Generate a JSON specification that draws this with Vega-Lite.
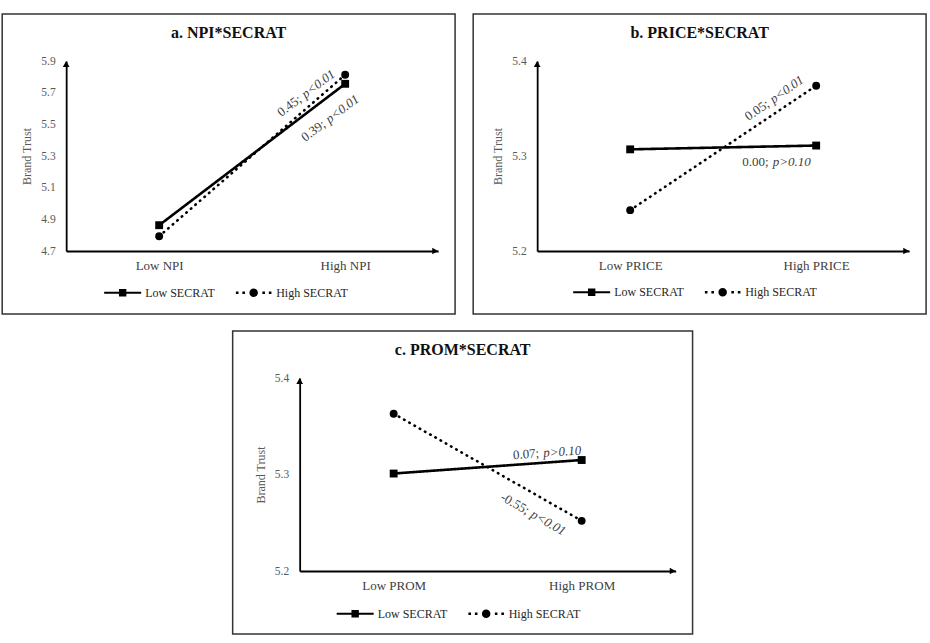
{
  "$schema": "https://vega.github.io/schema/vega-lite/v6.json",
  "background": "white",
  "padding": {"left": 1, "top": 13, "right": 0, "bottom": 0},
  "datasets": {
    "npi": [
      {"level": 1, "group": "Low SECRAT", "value": 4.863},
      {"level": 2, "group": "Low SECRAT", "value": 5.756},
      {"level": 1, "group": "High SECRAT", "value": 4.793},
      {"level": 2, "group": "High SECRAT", "value": 5.813}
    ],
    "price": [
      {"level": 1, "group": "Low SECRAT", "value": 5.307},
      {"level": 2, "group": "Low SECRAT", "value": 5.311},
      {"level": 1, "group": "High SECRAT", "value": 5.243},
      {"level": 2, "group": "High SECRAT", "value": 5.374}
    ],
    "prom": [
      {"level": 1, "group": "Low SECRAT", "value": 5.301},
      {"level": 2, "group": "Low SECRAT", "value": 5.315},
      {"level": 1, "group": "High SECRAT", "value": 5.363},
      {"level": 2, "group": "High SECRAT", "value": 5.252}
    ]
  },
  "spacing": 15,
  "center": true,
  "vconcat": [
    {
      "spacing": 16,
      "hconcat": [
        {
          "width": 372,
          "height": 190,
          "title": {"text": "a. NPI*SECRAT", "anchor": "middle", "frame": "bounds", "offset": -41, "baseline": "alphabetic", "fontSize": 16, "fontWeight": "bold", "color": "#111111", "font": "Liberation Serif"},
          "resolve": {"scale": {"shape": "independent"}},
          "layer": [
            {
              "data": {"values": [{}]},
              "mark": {"type": "rect", "fill": "transparent", "stroke": "#333333", "strokeWidth": 1.5},
              "encoding": {
                "x": {"datum": 0.156, "type": "quantitative", "scale": {"domain": [0.5, 2.5], "nice": false, "zero": false}},
                "x2": {"datum": 2.591},
                "y": {"datum": 4.302, "type": "quantitative", "scale": {"domain": [4.7, 5.9], "nice": false, "zero": false}},
                "y2": {"datum": 6.197}
              }
            },
            {
              "data": {"name": "npi"},
              "mark": {"type": "line", "color": "black", "strokeWidth": 2.6, "strokeCap": "round"},
              "encoding": {
                "x": {"field": "level", "type": "quantitative", "axis": {"values": [1, 2], "tickCount": 10, "labelExpr": "datum.value == 1 ? 'Low NPI' : 'High NPI'", "title": null}},
                "y": {"field": "value", "type": "quantitative", "axis": {"values": [4.7, 4.9, 5.1, 5.3, 5.5, 5.7, 5.9], "tickCount": 10, "format": ".1f", "title": "Brand Trust"}},
                "detail": {"field": "group"},
                "strokeDash": {"field": "group", "type": "nominal", "scale": {"domain": ["Low SECRAT", "High SECRAT"], "range": [[1, 0], [0.5, 5.5]]}, "legend": null}
              }
            },
            {
              "data": {"name": "npi"},
              "mark": {"type": "point", "filled": true, "color": "black", "size": 62, "opacity": 1},
              "encoding": {
                "x": {"field": "level", "type": "quantitative"},
                "y": {"field": "value", "type": "quantitative"},
                "shape": {"field": "group", "type": "nominal", "scale": {"domain": ["Low SECRAT", "High SECRAT"], "range": ["square", "circle"]}, "legend": null}
              }
            },
            {
              "data": {"name": "npi"},
              "mark": {"type": "point", "filled": true, "color": "black", "opacity": 0},
              "encoding": {
                "x": {"field": "level", "type": "quantitative"},
                "y": {"field": "value", "type": "quantitative"},
                "shape": {
                  "field": "group", "type": "nominal",
                  "scale": {"domain": ["Low SECRAT", "High SECRAT"], "range": ["M-1,-0.055H1V0.055H-1Z M-0.2,-0.2H0.2V0.2H-0.2Z", "M-0.96,-0.07H-0.82V0.07H-0.96Z M-0.61,-0.07H-0.47V0.07H-0.61Z M0.47,-0.07H0.61V0.07H0.47Z M0.82,-0.07H0.96V0.07H0.82Z M0.23,0A0.23,0.23 0 1,1 -0.23,0A0.23,0.23 0 1,1 0.23,0Z"]},
                  "legend": {"title": null, "orient": "none", "legendX": 38, "legendY": 213, "direction": "horizontal", "symbolSize": 1369, "symbolOpacity": 1, "symbolFillColor": "black", "symbolStrokeWidth": 0, "labelFontSize": 12, "labelColor": "#262626", "labelFont": "Liberation Serif", "labelOffset": 4, "columnPadding": 20, "padding": 0}
                }
              }
            },
            {
              "data": {"values": [{}]},
              "mark": {"type": "point", "shape": "triangle-up", "filled": true, "color": "black", "size": 45, "yOffset": 3, "opacity": 1},
              "encoding": {"x": {"datum": 0.5, "type": "quantitative"}, "y": {"datum": 5.9, "type": "quantitative"}}
            },
            {
              "data": {"values": [{}]},
              "mark": {"type": "point", "shape": "triangle-right", "filled": true, "color": "black", "size": 45, "xOffset": -3, "opacity": 1},
              "encoding": {"x": {"datum": 2.5, "type": "quantitative"}, "y": {"datum": 4.7, "type": "quantitative"}}
            },
            {
              "data": {"values": [{}]},
              "mark": {"type": "text", "text": "0.45;", "align": "right", "baseline": "middle", "angle": -37, "dx": -1.5, "fontSize": 13, "color": "#404040"},
              "encoding": {"x": {"datum": 1.763, "type": "quantitative"}, "y": {"datum": 5.673, "type": "quantitative"}}
            },
            {
              "data": {"values": [{}]},
              "mark": {"type": "text", "text": "p<0.01", "align": "left", "baseline": "middle", "angle": -37, "dx": 2.5, "fontStyle": "italic", "fontSize": 13, "color": "#404040"},
              "encoding": {"x": {"datum": 1.763, "type": "quantitative"}, "y": {"datum": 5.673, "type": "quantitative"}}
            },
            {
              "data": {"values": [{}]},
              "mark": {"type": "text", "text": "0.39;", "align": "right", "baseline": "middle", "angle": -37, "dx": -1.5, "fontSize": 13, "color": "#404040"},
              "encoding": {"x": {"datum": 1.892, "type": "quantitative"}, "y": {"datum": 5.515, "type": "quantitative"}}
            },
            {
              "data": {"values": [{}]},
              "mark": {"type": "text", "text": "p<0.01", "align": "left", "baseline": "middle", "angle": -37, "dx": 2.5, "fontStyle": "italic", "fontSize": 13, "color": "#404040"},
              "encoding": {"x": {"datum": 1.892, "type": "quantitative"}, "y": {"datum": 5.515, "type": "quantitative"}}
            }
          ]
        },
        {
          "width": 372,
          "height": 190,
          "title": {"text": "b. PRICE*SECRAT", "anchor": "middle", "frame": "bounds", "offset": -41, "baseline": "alphabetic", "fontSize": 16, "fontWeight": "bold", "color": "#111111", "font": "Liberation Serif"},
          "resolve": {"scale": {"shape": "independent"}},
          "layer": [
            {
              "data": {"values": [{}]},
              "mark": {"type": "rect", "fill": "transparent", "stroke": "#333333", "strokeWidth": 1.5},
              "encoding": {
                "x": {"datum": 0.156, "type": "quantitative", "scale": {"domain": [0.5, 2.5], "nice": false, "zero": false}},
                "x2": {"datum": 2.591},
                "y": {"datum": 5.1337, "type": "quantitative", "scale": {"domain": [5.2, 5.4], "nice": false, "zero": false}},
                "y2": {"datum": 5.4495}
              }
            },
            {
              "data": {"name": "price"},
              "mark": {"type": "line", "color": "black", "strokeWidth": 2.6, "strokeCap": "round"},
              "encoding": {
                "x": {"field": "level", "type": "quantitative", "axis": {"values": [1, 2], "tickCount": 10, "labelExpr": "datum.value == 1 ? 'Low PRICE' : 'High PRICE'", "title": null}},
                "y": {"field": "value", "type": "quantitative", "axis": {"values": [5.2, 5.3, 5.4], "tickCount": 10, "format": ".1f", "title": "Brand Trust"}},
                "detail": {"field": "group"},
                "strokeDash": {"field": "group", "type": "nominal", "scale": {"domain": ["Low SECRAT", "High SECRAT"], "range": [[1, 0], [0.5, 5.5]]}, "legend": null}
              }
            },
            {
              "data": {"name": "price"},
              "mark": {"type": "point", "filled": true, "color": "black", "size": 62, "opacity": 1},
              "encoding": {
                "x": {"field": "level", "type": "quantitative"},
                "y": {"field": "value", "type": "quantitative"},
                "shape": {"field": "group", "type": "nominal", "scale": {"domain": ["Low SECRAT", "High SECRAT"], "range": ["square", "circle"]}, "legend": null}
              }
            },
            {
              "data": {"name": "price"},
              "mark": {"type": "point", "filled": true, "color": "black", "opacity": 0},
              "encoding": {
                "x": {"field": "level", "type": "quantitative"},
                "y": {"field": "value", "type": "quantitative"},
                "shape": {
                  "field": "group", "type": "nominal",
                  "scale": {"domain": ["Low SECRAT", "High SECRAT"], "range": ["M-1,-0.055H1V0.055H-1Z M-0.2,-0.2H0.2V0.2H-0.2Z", "M-0.96,-0.07H-0.82V0.07H-0.96Z M-0.61,-0.07H-0.47V0.07H-0.61Z M0.47,-0.07H0.61V0.07H0.47Z M0.82,-0.07H0.96V0.07H0.82Z M0.23,0A0.23,0.23 0 1,1 -0.23,0A0.23,0.23 0 1,1 0.23,0Z"]},
                  "legend": {"title": null, "orient": "none", "legendX": 36, "legendY": 212.5, "direction": "horizontal", "symbolSize": 1369, "symbolOpacity": 1, "symbolFillColor": "black", "symbolStrokeWidth": 0, "labelFontSize": 12, "labelColor": "#262626", "labelFont": "Liberation Serif", "labelOffset": 4, "columnPadding": 20, "padding": 0}
                }
              }
            },
            {
              "data": {"values": [{}]},
              "mark": {"type": "point", "shape": "triangle-up", "filled": true, "color": "black", "size": 45, "yOffset": 3, "opacity": 1},
              "encoding": {"x": {"datum": 0.5, "type": "quantitative"}, "y": {"datum": 5.4, "type": "quantitative"}}
            },
            {
              "data": {"values": [{}]},
              "mark": {"type": "point", "shape": "triangle-right", "filled": true, "color": "black", "size": 45, "xOffset": -3, "opacity": 1},
              "encoding": {"x": {"datum": 2.5, "type": "quantitative"}, "y": {"datum": 5.2, "type": "quantitative"}}
            },
            {
              "data": {"values": [{}]},
              "mark": {"type": "text", "text": "0.05;", "align": "right", "baseline": "middle", "angle": -35, "dx": -1.5, "fontSize": 13, "color": "#404040"},
              "encoding": {"x": {"datum": 1.747, "type": "quantitative"}, "y": {"datum": 5.357, "type": "quantitative"}}
            },
            {
              "data": {"values": [{}]},
              "mark": {"type": "text", "text": "p<0.01", "align": "left", "baseline": "middle", "angle": -35, "dx": 2.5, "fontStyle": "italic", "fontSize": 13, "color": "#404040"},
              "encoding": {"x": {"datum": 1.747, "type": "quantitative"}, "y": {"datum": 5.357, "type": "quantitative"}}
            },
            {
              "data": {"values": [{}]},
              "mark": {"type": "text", "text": "0.00;", "align": "right", "baseline": "middle", "dx": -1.5, "fontSize": 13, "color": "#404040"},
              "encoding": {"x": {"datum": 1.753, "type": "quantitative"}, "y": {"datum": 5.294, "type": "quantitative"}}
            },
            {
              "data": {"values": [{}]},
              "mark": {"type": "text", "text": "p>0.10", "align": "left", "baseline": "middle", "dx": 2.5, "fontStyle": "italic", "fontSize": 13, "color": "#404040"},
              "encoding": {"x": {"datum": 1.753, "type": "quantitative"}, "y": {"datum": 5.294, "type": "quantitative"}}
            }
          ]
        }
      ]
    },
    {
      "width": 376,
      "height": 193,
      "title": {"text": "c. PROM*SECRAT", "anchor": "middle", "frame": "bounds", "offset": -41, "baseline": "alphabetic", "fontSize": 16, "fontWeight": "bold", "color": "#111111", "font": "Liberation Serif"},
      "resolve": {"scale": {"shape": "independent"}},
      "layer": [
        {
          "data": {"values": [{}]},
          "mark": {"type": "rect", "fill": "transparent", "stroke": "#333333", "strokeWidth": 1.5},
          "encoding": {
            "x": {"datum": 0.1436, "type": "quantitative", "scale": {"domain": [0.5, 2.5], "nice": false, "zero": false}},
            "x2": {"datum": 2.59},
            "y": {"datum": 5.1347, "type": "quantitative", "scale": {"domain": [5.2, 5.4], "nice": false, "zero": false}},
            "y2": {"datum": 5.4487}
          }
        },
        {
          "data": {"name": "prom"},
          "mark": {"type": "line", "color": "black", "strokeWidth": 2.6, "strokeCap": "round"},
          "encoding": {
            "x": {"field": "level", "type": "quantitative", "axis": {"values": [1, 2], "tickCount": 10, "labelExpr": "datum.value == 1 ? 'Low PROM' : 'High PROM'", "title": null}},
            "y": {"field": "value", "type": "quantitative", "axis": {"values": [5.2, 5.3, 5.4], "tickCount": 10, "format": ".1f", "title": "Brand Trust"}},
            "detail": {"field": "group"},
            "strokeDash": {"field": "group", "type": "nominal", "scale": {"domain": ["Low SECRAT", "High SECRAT"], "range": [[1, 0], [0.5, 5.5]]}, "legend": null}
          }
        },
        {
          "data": {"name": "prom"},
          "mark": {"type": "point", "filled": true, "color": "black", "size": 62, "opacity": 1},
          "encoding": {
            "x": {"field": "level", "type": "quantitative"},
            "y": {"field": "value", "type": "quantitative"},
            "shape": {"field": "group", "type": "nominal", "scale": {"domain": ["Low SECRAT", "High SECRAT"], "range": ["square", "circle"]}, "legend": null}
          }
        },
        {
          "data": {"name": "prom"},
          "mark": {"type": "point", "filled": true, "color": "black", "opacity": 0},
          "encoding": {
            "x": {"field": "level", "type": "quantitative"},
            "y": {"field": "value", "type": "quantitative"},
            "shape": {
              "field": "group", "type": "nominal",
              "scale": {"domain": ["Low SECRAT", "High SECRAT"], "range": ["M-1,-0.055H1V0.055H-1Z M-0.2,-0.2H0.2V0.2H-0.2Z", "M-0.96,-0.07H-0.82V0.07H-0.96Z M-0.61,-0.07H-0.47V0.07H-0.61Z M0.47,-0.07H0.61V0.07H0.47Z M0.82,-0.07H0.96V0.07H0.82Z M0.23,0A0.23,0.23 0 1,1 -0.23,0A0.23,0.23 0 1,1 0.23,0Z"]},
              "legend": {"title": null, "orient": "none", "legendX": 37, "legendY": 217, "direction": "horizontal", "symbolSize": 1369, "symbolOpacity": 1, "symbolFillColor": "black", "symbolStrokeWidth": 0, "labelFontSize": 12, "labelColor": "#262626", "labelFont": "Liberation Serif", "labelOffset": 4, "columnPadding": 20, "padding": 0}
            }
          }
        },
        {
          "data": {"values": [{}]},
          "mark": {"type": "point", "shape": "triangle-up", "filled": true, "color": "black", "size": 45, "yOffset": 3, "opacity": 1},
          "encoding": {"x": {"datum": 0.5, "type": "quantitative"}, "y": {"datum": 5.4, "type": "quantitative"}}
        },
        {
          "data": {"values": [{}]},
          "mark": {"type": "point", "shape": "triangle-right", "filled": true, "color": "black", "size": 45, "xOffset": -3, "opacity": 1},
          "encoding": {"x": {"datum": 2.5, "type": "quantitative"}, "y": {"datum": 5.2, "type": "quantitative"}}
        },
        {
          "data": {"values": [{}]},
          "mark": {"type": "text", "text": "0.07;", "align": "right", "baseline": "middle", "angle": -4, "dx": -1.5, "fontSize": 13, "color": "#404040"},
          "encoding": {"x": {"datum": 1.782, "type": "quantitative"}, "y": {"datum": 5.322, "type": "quantitative"}}
        },
        {
          "data": {"values": [{}]},
          "mark": {"type": "text", "text": "p>0.10", "align": "left", "baseline": "middle", "angle": -4, "dx": 2.5, "fontStyle": "italic", "fontSize": 13, "color": "#404040"},
          "encoding": {"x": {"datum": 1.782, "type": "quantitative"}, "y": {"datum": 5.322, "type": "quantitative"}}
        },
        {
          "data": {"values": [{}]},
          "mark": {"type": "text", "text": "-0.55;", "align": "right", "baseline": "middle", "angle": 30, "dx": -1.5, "fontSize": 13, "color": "#404040"},
          "encoding": {"x": {"datum": 1.723, "type": "quantitative"}, "y": {"datum": 5.261, "type": "quantitative"}}
        },
        {
          "data": {"values": [{}]},
          "mark": {"type": "text", "text": "p<0.01", "align": "left", "baseline": "middle", "angle": 30, "dx": 2.5, "fontStyle": "italic", "fontSize": 13, "color": "#404040"},
          "encoding": {"x": {"datum": 1.723, "type": "quantitative"}, "y": {"datum": 5.261, "type": "quantitative"}}
        }
      ]
    }
  ],
  "config": {
    "font": "Liberation Serif",
    "view": {"stroke": null},
    "axis": {"grid": false, "ticks": false, "zindex": 1, "labelOverlap": false, "domainColor": "#000000", "domainWidth": 1.8, "labelFont": "Liberation Serif", "titleFont": "Liberation Serif"},
    "axisY": {"labelPadding": 11, "labelFontSize": 11.5, "labelColor": "#595959", "titleFontSize": 12, "titleFontWeight": "normal", "titleColor": "#595959", "titlePadding": 7},
    "axisX": {"labelPadding": 8, "labelFontSize": 13, "labelColor": "#404040"}
  }
}
